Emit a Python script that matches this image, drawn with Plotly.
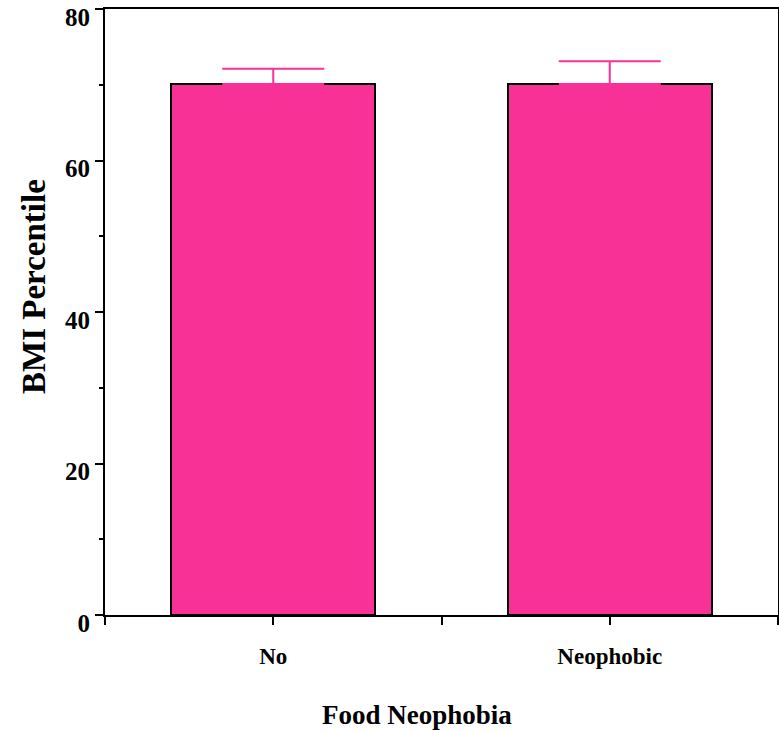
import plotly.graph_objects as go

categories = ["No", "Neophobic"]
bmi_percentile = [70.1, 70.1]
error_upper = [2.0, 3.0]
y_ticks = [0, 20, 40, 60, 80]

bar_color = "#F73196"
font_family = "Liberation Serif, Times New Roman, serif"

x_pos = [2 * i + 1 for i in range(len(categories))]

fig = go.Figure()
fig.add_trace(go.Bar(
    x=x_pos,
    y=bmi_percentile,
    width=1.21,
    marker=dict(color=bar_color, line=dict(color="black", width=2)),
    error_y=dict(type="data", symmetric=False, array=error_upper,
                 arrayminus=[0] * len(categories),
                 color=bar_color, thickness=2, width=51),
    showlegend=False,
))

tickvals = list(range(0, 2 * len(categories) + 1))
ticktext = [""] * len(tickvals)
for i, c in enumerate(categories):
    ticktext[x_pos[i]] = c

fig.update_layout(
    width=779, height=732,
    margin=dict(l=105, r=1, t=9, b=117, autoexpand=False),
    plot_bgcolor="white", paper_bgcolor="white",
    font=dict(family=font_family, color="black"),
    bargap=0,
)
fig.update_xaxes(
    range=[0, 2 * len(categories)],
    tickmode="array", tickvals=tickvals, ticktext=ticktext,
    ticks="outside", ticklen=8, tickwidth=1.5, tickcolor="black",
    ticklabelstandoff=11, automargin=False,
    showline=True, linewidth=2, linecolor="black", mirror=True,
    showgrid=False, zeroline=False,
    tickfont=dict(family=font_family, size=23, color="black", weight="bold"),
)
fig.update_yaxes(
    range=[0, 80],
    tickmode="array", tickvals=y_ticks,
    ticks="outside", ticklen=8, tickwidth=2, tickcolor="black",
    ticklabeloverflow="allow", ticklabelshift=8, automargin=False,
    minor=dict(dtick=10, ticks="outside", ticklen=4, tickwidth=2, tickcolor="black"),
    showline=True, linewidth=2, linecolor="black", mirror=True,
    showgrid=False, zeroline=False,
    tickfont=dict(family=font_family, size=25, color="black", weight="bold"),
)

fig.add_annotation(
    text="<b>Food Neophobia</b>", xref="paper", yref="paper",
    x=0.4636, y=-0.165, xanchor="center", yanchor="middle", showarrow=False,
    font=dict(family=font_family, size=27, color="black"),
)
fig.add_annotation(
    text="<b>BMI Percentile</b>", xref="paper", yref="paper", textangle=-90,
    x=-0.1055, y=0.543, xanchor="center", yanchor="middle", showarrow=False,
    font=dict(family=font_family, size=33, color="black"),
)

fig.write_html("out.html")
